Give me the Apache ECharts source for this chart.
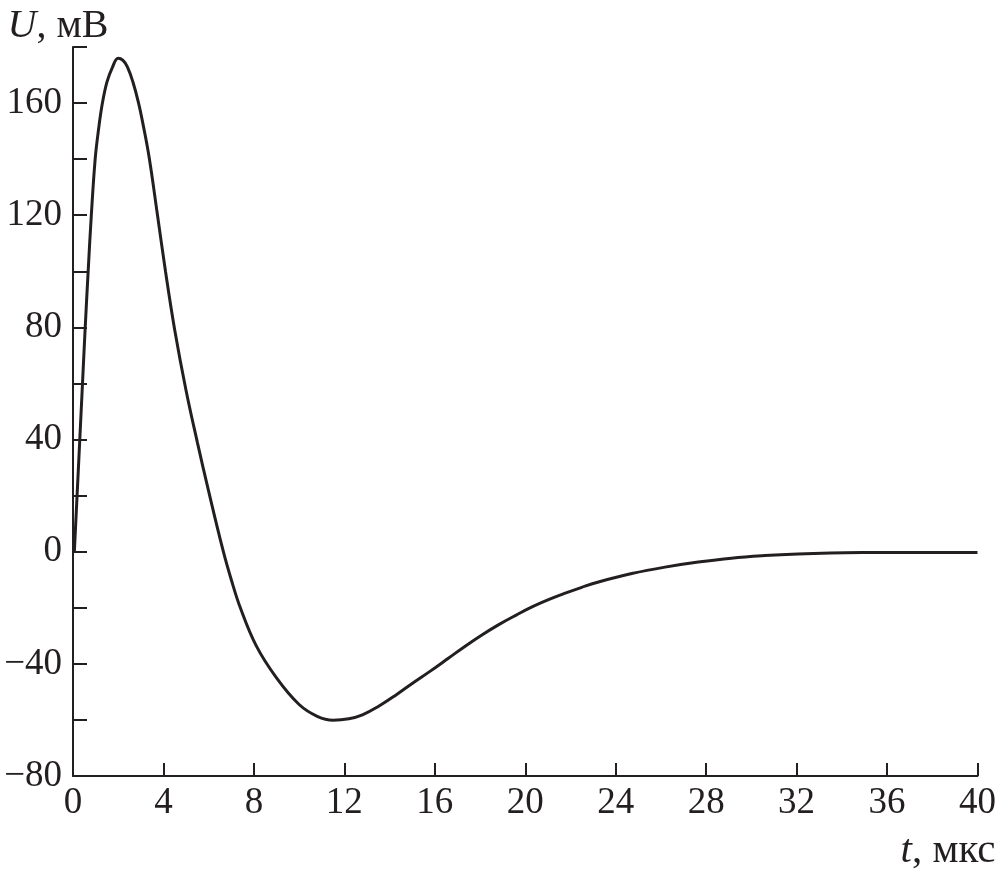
<!DOCTYPE html>
<html>
<head>
<meta charset="utf-8">
<script src="https://cdn.jsdelivr.net/npm/echarts@6/dist/echarts.min.js"></script>
<style>
html,body{margin:0;padding:0;background:#fff;}
#chart{width:999px;height:874px;}
</style>
</head>
<body>
<div id="chart"></div>
<script>
const timeValues = [0.06, 0.18, 0.3, 0.42, 0.54, 0.67, 0.81, 0.98, 1.12, 1.3, 1.5, 1.73, 2.0, 2.2, 2.4, 2.65, 2.9, 3.12, 3.37, 3.72, 4.09, 4.5, 5.0, 5.5, 6.0, 6.65, 7.0, 7.4, 8.1, 9.0, 10.0, 10.8, 11.5, 12.2, 12.8, 13.5, 14.3, 15.0, 15.8, 16.6, 17.36, 18.1, 18.83, 19.6, 20.3, 21.0, 21.77, 22.5, 23.24, 24.71, 26.18, 27.65, 29.12, 30.6, 32.06, 33.5, 35.0, 37.0, 40.0];
const voltageValues = [0, 20, 40, 60, 80, 100, 120, 140, 150, 160, 167.5, 172.5, 176, 175.3, 173, 167.5, 160, 151.5, 140.5, 121, 100, 79, 57.5, 39, 21.5, 0, -10, -20, -33.5, -45, -54.5, -58.7, -60.1, -59.6, -58.2, -55.2, -51, -47, -42.6, -38, -33.6, -29.6, -26, -22.6, -19.7, -17.2, -14.8, -12.7, -10.8, -7.8, -5.5, -3.7, -2.3, -1.4, -0.8, -0.45, -0.3, -0.25, -0.3];
const xTicks = [0, 4, 8, 12, 16, 20, 24, 28, 32, 36, 40];
const yLabelTicks = [-80, -40, 0, 40, 80, 120, 160];

const ink = '#231f20';
const font = 'Liberation Serif';

const chart = echarts.init(document.getElementById('chart'), null, {renderer: 'canvas'});
const data = timeValues.map((t, i) => [t, voltageValues[i]]);

chart.setOption({
  animation: false,
  backgroundColor: '#ffffff',
  grid: {left: 73, right: 19, top: 47, bottom: 98},
  xAxis: {
    type: 'value',
    min: 0, max: 40, interval: 4,
    name: '{i|t}, мкс',
    nameLocation: 'end',
    nameGap: 18,
    nameTextStyle: {
      fontFamily: font, fontSize: 41, color: ink,
      align: 'right', verticalAlign: 'top', padding: [55, 0, 0, 0],
      rich: {i: {fontFamily: font, fontSize: 41, fontStyle: 'italic', color: ink}}
    },
    axisLine: {onZero: false, lineStyle: {color: ink, width: 2}},
    axisTick: {inside: true, length: 13, lineStyle: {color: ink, width: 2}},
    splitLine: {show: false},
    axisLabel: {
      fontFamily: font, fontSize: 37, color: ink, margin: 9,
      formatter: v => xTicks.includes(v) ? String(v) : ''
    }
  },
  yAxis: {
    type: 'value',
    min: -80, max: 180, interval: 20,
    name: '{i|U}, мВ',
    nameLocation: 'end',
    nameGap: 1,
    nameTextStyle: {
      fontFamily: font, fontSize: 40, color: ink,
      align: 'center', verticalAlign: 'bottom', padding: [0, 30, 0, 0],
      rich: {i: {fontFamily: font, fontSize: 40, fontStyle: 'italic', color: ink}}
    },
    axisLine: {show: true, onZero: false, lineStyle: {color: ink, width: 2}},
    axisTick: {show: true, inside: true, length: 14, lineStyle: {color: ink, width: 2}},
    splitLine: {show: false},
    axisLabel: {
      fontFamily: font, fontSize: 37, color: ink, margin: 11,
      formatter: v => yLabelTicks.includes(v) ? String(v).replace('-', '\u2212') : ''
    }
  },
  series: [{
    type: 'line',
    data: data,
    showSymbol: false,
    smooth: 0.4,
    lineStyle: {color: ink, width: 3},
    itemStyle: {color: ink}
  }]
});
</script>
</body>
</html>
